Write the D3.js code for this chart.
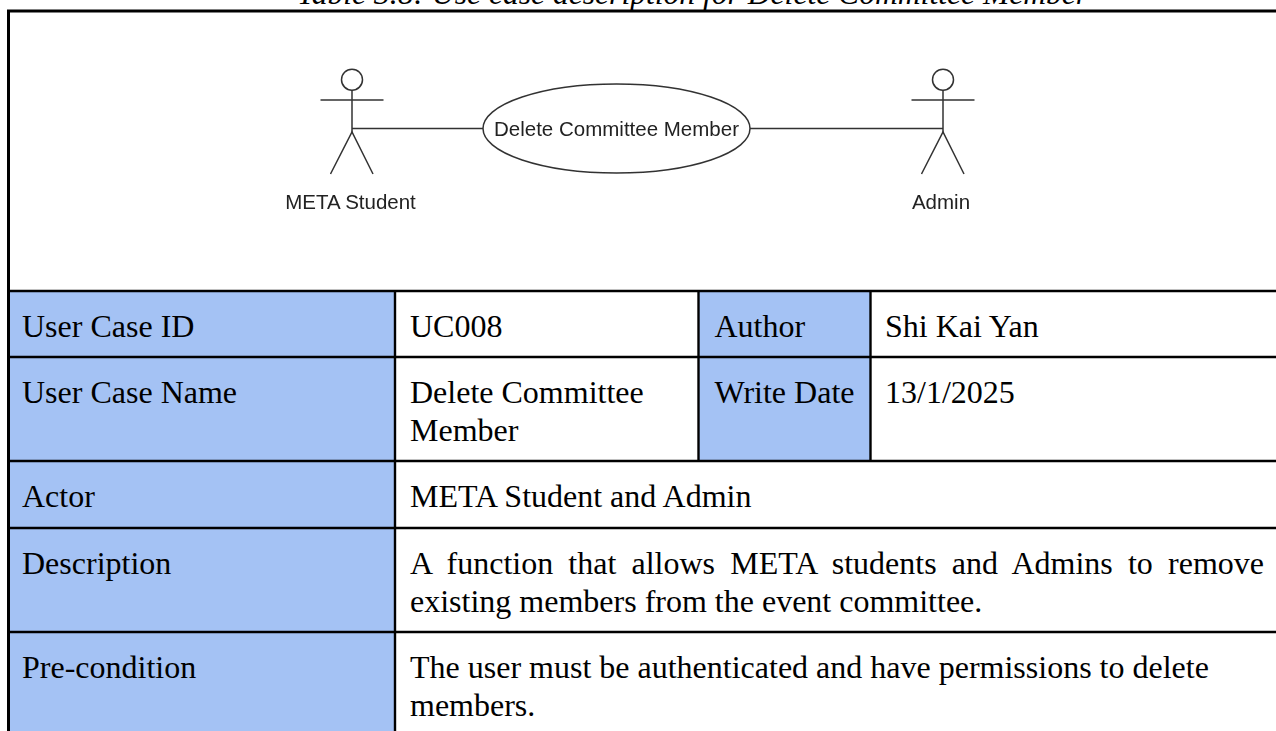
<!DOCTYPE html>
<html>
<head>
<meta charset="utf-8">
<title>Use case description</title>
<script src="https://cdn.jsdelivr.net/npm/d3@7"></script>
<style>
  html, body { margin: 0; padding: 0; background: #fff; overflow: hidden; }
  svg { display: block; }
  .cell-text { font-family: "Liberation Serif", serif; font-size: 32px; fill: #000; }
  .caption { font-family: "Liberation Serif", serif; font-size: 31.6px; font-style: italic; fill: #000; }
  .uml-text { font-family: "Liberation Sans", sans-serif; font-size: 20.5px; fill: #222; }
</style>
</head>
<body>
<div id="chart"></div>
<script>
// Table content
const captionText = 'Table 3.8: Use case description for Delete Committee Member';
const rowKeys = ['diagram', 'id', 'name', 'actor', 'description', 'pre'];
const labelRows = ['id', 'name', 'actor', 'description', 'pre'];
const labelTexts = ['User Case ID', 'User Case Name', 'Actor', 'Description', 'Pre-condition'];
const valueTexts = [
  ['UC008'],
  ['Delete Committee', 'Member'],
  ['META Student and Admin'],
  ['A function that allows META students and Admins to remove', 'existing members from the event committee.'],
  ['The user must be authenticated and have permissions to delete', 'members.']
];
const sideRows = ['id', 'name'];
const sideLabels = ['Author', 'Write Date'];
const sideValues = ['Shi Kai Yan', '13/1/2025'];

// Use case diagram content
const actorNames = ['META Student', 'Admin'];
const useCaseName = 'Delete Committee Member';

const width = 1276, height = 731;
const svg = d3.select('#chart').append('svg').attr('width', width).attr('height', height);

// Scales: map the table's columns and rows onto the page
const colNames = ['label', 'value', 'sideLabel', 'sideValue', 'end'];
const x = d3.scaleOrdinal().domain(colNames).range([8.5, 395, 698.5, 870.5, 1276]);
const y = d3.scaleOrdinal().domain([...rowKeys, 'end']).range([11, 291, 357, 461, 528, 632, 731]);
const nextRow = k => rowKeys.concat('end')[rowKeys.indexOf(k) + 1];

// Blue header cells
svg.selectAll('.label-bg').data(labelRows).enter().append('rect')
  .attr('class', 'label-bg')
  .attr('x', x('label')).attr('width', x('value') - x('label'))
  .attr('y', d => y(d)).attr('height', d => y(nextRow(d)) - y(d))
  .attr('fill', '#a4c2f4');

svg.selectAll('.side-bg').data(sideRows).enter().append('rect')
  .attr('class', 'side-bg')
  .attr('x', x('sideLabel')).attr('width', x('sideValue') - x('sideLabel'))
  .attr('y', d => y(d)).attr('height', d => y(nextRow(d)) - y(d))
  .attr('fill', '#a4c2f4');

// Caption, cut by the top of the page
svg.append('text').attr('class', 'caption')
  .attr('x', 297).attr('y', 4).text(captionText);

// Grid lines
const grid = svg.append('g').attr('stroke', '#000').attr('stroke-width', 2.4);
grid.selectAll('.h').data(rowKeys.slice(1)).enter().append('line')
  .attr('x1', x('label')).attr('x2', x('end'))
  .attr('y1', d => y(d)).attr('y2', d => y(d));
grid.append('line').attr('x1', x('label') - 1.5).attr('x2', width)
  .attr('y1', y('diagram')).attr('y2', y('diagram')).attr('stroke-width', 3);
grid.append('line').attr('x1', x('label')).attr('x2', x('label'))
  .attr('y1', y('diagram')).attr('y2', height).attr('stroke-width', 3);
grid.append('line').attr('x1', x('value')).attr('x2', x('value'))
  .attr('y1', y('id')).attr('y2', height);
['sideLabel', 'sideValue'].forEach(c => {
  grid.append('line').attr('x1', x(c)).attr('x2', x(c))
    .attr('y1', y('id')).attr('y2', y('actor'));
});

// Table text
const baseline = d => y(d) + 46;
const lineGap = 37.5;

svg.selectAll('.label-text').data(labelRows).enter().append('text')
  .attr('class', 'cell-text label-text')
  .attr('x', x('label') + 13.5).attr('y', baseline)
  .text((d, i) => labelTexts[i]);

labelRows.forEach((r, i) => {
  valueTexts[i].forEach((t, j) => {
    svg.append('text').attr('class', 'cell-text')
      .attr('x', x('value') + 15).attr('y', baseline(r) + j * lineGap)
      .text(t)
      .each(function () {
        // description is justified in the original, first line fills the cell
        if (r === 'description' && j === 0) {
          const sel = d3.select(this);
          const gaps = t.split(' ').length - 1;
          const extra = (1264 - (x('value') + 15) - this.getComputedTextLength()) / gaps;
          sel.attr('word-spacing', extra);
        }
      });
  });
});

svg.selectAll('.side-label').data(sideRows).enter().append('text')
  .attr('class', 'cell-text side-label')
  .attr('x', x('sideLabel') + 16).attr('y', baseline)
  .text((d, i) => sideLabels[i]);

svg.selectAll('.side-value').data(sideRows).enter().append('text')
  .attr('class', 'cell-text side-value')
  .attr('x', x('sideValue') + 14.5).attr('y', baseline)
  .text((d, i) => sideValues[i]);

// Use case diagram, the source picture is a slightly blurred bitmap
const defs = svg.append('defs');
defs.append('filter').attr('id', 'soft').append('feGaussianBlur').attr('stdDeviation', 0.5);
const uml = svg.append('g').attr('filter', 'url(#soft)')
  .attr('stroke', '#333').attr('stroke-width', 1.5).attr('fill', 'none');

const actorX = d3.scalePoint().domain(actorNames).range([352, 943]);
const line = d3.line();

actorNames.forEach(name => {
  const g = uml.append('g').attr('transform', `translate(${actorX(name)},0)`);
  g.append('circle').attr('cy', 79.7).attr('r', 10.5);
  g.append('path').attr('d', line([[0, 90], [0, 132]]));
  g.append('path').attr('d', line([[-31.5, 100], [31.5, 100]]));
  g.append('path').attr('d', line([[-21.5, 174], [0, 132], [21, 174]]));
  uml.append('text').attr('class', 'uml-text')
    .attr('x', actorX(name) - (name === 'Admin' ? 2 : 1.5)).attr('y', 208.5)
    .attr('text-anchor', 'middle').attr('stroke', 'none')
    .text(name);
});

uml.append('path').attr('d', line([[actorX(actorNames[0]), 128.5], [483, 128.5]]));
uml.append('path').attr('d', line([[750, 128.5], [actorX(actorNames[1]), 128.5]]));
uml.append('ellipse').attr('cx', 616.5).attr('cy', 128.5).attr('rx', 133.5).attr('ry', 44.5);
uml.append('text').attr('class', 'uml-text')
  .attr('x', 616.5).attr('y', 136).attr('text-anchor', 'middle').attr('stroke', 'none')
  .text(useCaseName);
</script>
</body>
</html>
